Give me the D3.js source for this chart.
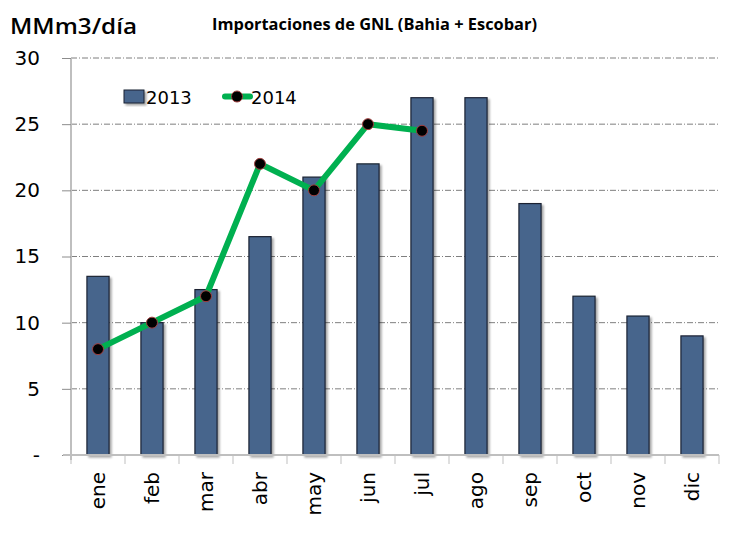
<!DOCTYPE html>
<html><head><meta charset="utf-8">
<script src="https://cdn.jsdelivr.net/npm/d3@7"></script>
<style>body{margin:0;background:#fff}</style>
</head><body>
<script>
const months = ["ene","feb","mar","abr","may","jun","jul","ago","sep","oct","nov","dic"];
const values2013 = [13.5,10,12.5,16.5,21,22,27,27,19,12,10.5,9];
const values2014 = [8,10,12,22,20,25,24.5];
const yTicks = [0,5,10,15,20,25,30];
const yTickLabels = ["-","5","10","15","20","25","30"];

const W=749,H=544;
const svg=d3.select("body").append("svg").attr("width",W).attr("height",H);
const defs=svg.append("defs");
const f=defs.append("filter").attr("id","sh").attr("x","-20%").attr("y","-20%").attr("width","150%").attr("height","150%");
f.append("feDropShadow").attr("dx",2).attr("dy",2).attr("stdDeviation",1.2).attr("flood-color","#000").attr("flood-opacity",0.35);

const L=71,R=719,T=58,B=455;
const x=d3.scaleBand().domain(months).range([L,R]).paddingInner(0.59).paddingOuter(0.295);
const xc=d3.scaleBand().domain(months).range([L,R]);
const y=d3.scaleLinear().domain([0,30]).range([B,T]);

// gridlines
svg.append("g").selectAll("line").data(yTicks.filter(d=>d>0)).join("line")
 .attr("x1",L).attr("x2",R).attr("y1",d=>y(d)).attr("y2",d=>y(d))
 .attr("stroke","#7f7f7f").attr("stroke-width",1).attr("stroke-dasharray","6,2,1,2");

// bars
svg.append("g").selectAll("rect").data(values2013).join("rect")
 .attr("x",(d,i)=>x(months[i])).attr("width",x.bandwidth())
 .attr("y",d=>y(d)).attr("height",d=>B-y(d))
 .attr("fill","#46658c").attr("stroke","#1a2333").attr("stroke-width",1.2)
 .attr("filter","url(#sh)");

// y axis
const yAxis=d3.axisLeft(y).tickValues(yTicks).tickFormat((d,i)=>yTickLabels[i]).tickSize(9).tickPadding(22);
const gy=svg.append("g").attr("transform",`translate(${L},0)`).call(yAxis);
gy.select(".domain").attr("stroke","#bfbfbf").attr("stroke-width",2).attr("d",`M0,${T}V${B+5}`);
gy.selectAll(".tick line").attr("stroke","#8c8c8c");
gy.selectAll("text").attr("font-family","'DejaVu Sans'").attr("font-size",20).attr("fill","#000");

// x axis
const gx=svg.append("g").attr("transform",`translate(0,${B})`);
gx.append("line").attr("x1",L-8).attr("x2",R).attr("stroke","#bfbfbf").attr("stroke-width",2);
gx.selectAll("line.t").data(months.concat(["_end"])).join("line").attr("class","t")
 .attr("x1",(d,i)=>L+i*xc.bandwidth()).attr("x2",(d,i)=>L+i*xc.bandwidth())
 .attr("y1",0).attr("y2",9).attr("stroke","#bfbfbf").attr("stroke-width",1);
gx.selectAll("text").data(months).join("text")
 .attr("transform",d=>`translate(${xc(d)+xc.bandwidth()/2+7},${17}) rotate(-90)`)
 .attr("text-anchor","end").attr("font-family","'DejaVu Sans'").attr("font-size",20).attr("fill","#000")
 .text(d=>d);

// line 2014
const line=d3.line().x((d,i)=>xc(months[i])+xc.bandwidth()/2).y(d=>y(d));
svg.append("path").datum(values2014).attr("d",line).attr("fill","none")
 .attr("stroke","#00b050").attr("stroke-width",6).attr("stroke-linejoin","miter");
svg.append("g").selectAll("circle").data(values2014).join("circle")
 .attr("cx",(d,i)=>xc(months[i])+xc.bandwidth()/2).attr("cy",d=>y(d)).attr("r",5.5)
 .attr("fill","#000").attr("stroke","#a04040").attr("stroke-width",1);

// legend
const lg=svg.append("g");
lg.append("rect").attr("x",124).attr("y",90).attr("width",20).attr("height",13)
 .attr("fill","#46658c").attr("stroke","#1a2333").attr("stroke-width",1).attr("filter","url(#sh)");
lg.append("text").attr("x",146).attr("y",104).attr("font-family","'DejaVu Sans'").attr("font-size",18).text("2013");
lg.append("line").attr("x1",225).attr("x2",250).attr("y1",96.5).attr("y2",96.5).attr("stroke","#00b050").attr("stroke-width",6).attr("stroke-linecap","round");
lg.append("circle").attr("cx",237).attr("cy",96.5).attr("r",5.5).attr("fill","#000").attr("stroke","#a04040");
lg.append("text").attr("x",251).attr("y",104).attr("font-family","'DejaVu Sans'").attr("font-size",18).text("2014");

// titles
svg.append("text").attr("x",10).attr("y",34).attr("font-family","'Open Sans',sans-serif")
 .attr("font-size",22).attr("font-weight",600).attr("fill","#000")
 .attr("textLength",127).attr("lengthAdjust","spacingAndGlyphs").text("MMm3/día");
svg.append("text").attr("x",212).attr("y",30).attr("font-family","'Open Sans',sans-serif")
 .attr("font-size",16).attr("font-weight","bold").attr("fill","#000")
 .attr("textLength",325).attr("lengthAdjust","spacingAndGlyphs").text("Importaciones de GNL (Bahia + Escobar)");
</script>
</body></html>
